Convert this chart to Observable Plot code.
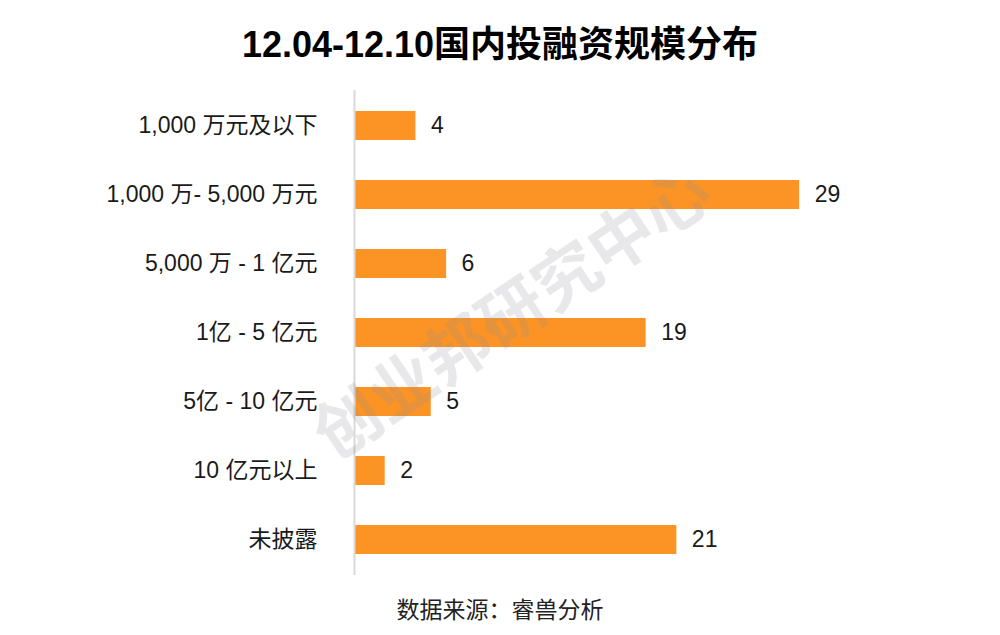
<!DOCTYPE html>
<html>
<head>
<meta charset="utf-8">
<script src="https://cdn.jsdelivr.net/npm/d3@7"></script>
<script src="https://cdn.jsdelivr.net/npm/@observablehq/plot@0.6"></script>
<style>
  html, body { margin: 0; padding: 0; background: #fff; }
  #wrap { width: 1000px; height: 635px; position: relative; overflow: hidden;
          font-family: "Liberation Sans", "Noto Sans CJK SC", sans-serif; }
  #title { height: 80px; line-height: 90px; text-align: center; font-size: 36px; font-weight: bold; color: #000; }
  #caption { height: 45px; line-height: 40px; text-align: center; font-size: 23px; color: #222; }
  svg { display: block; }
</style>
</head>
<body>
<div id="wrap">
  <div id="title">12.04-12.10国内投融资规模分布</div>
  <div id="chart"></div>
  <div id="caption">数据来源：睿兽分析</div>
</div>
<script>
const categories = ["1,000 万元及以下", "1,000 万- 5,000 万元", "5,000 万 - 1 亿元", "1亿 - 5 亿元", "5亿 - 10 亿元", "10 亿元以上", "未披露"];
const values = [4, 29, 6, 19, 5, 2, 21];
const watermark = "创业邦研究中心";

const data = categories.map((c, i) => ({category: c, value: values[i]}));

const chart = Plot.plot({
  width: 1000,
  height: 510,
  marginLeft: 354,
  marginRight: 32,
  marginTop: 10,
  marginBottom: 15,
  style: {fontFamily: "Liberation Sans, Noto Sans CJK SC, sans-serif", color: "#1a1a1a", background: "#fff"},
  x: {domain: [0, 40], axis: null},
  y: {domain: categories, paddingInner: 0.58, paddingOuter: 0.29, label: null},
  marks: [
    Plot.barX(data, {x: "value", y: "category", fill: "#fc9425"}),
    Plot.ruleX([0], {stroke: "#d9d9d9", strokeWidth: 2}),
    Plot.text(data, {x: "value", y: "category", text: d => String(d.value), textAnchor: "start", dx: 15, fontSize: 23, fill: "#1a1a1a"}),
    Plot.axisY({tickSize: 0, tickPadding: 37, fontSize: 23, label: null, fill: "#1a1a1a"}),
    Plot.text([watermark], {frameAnchor: "middle", text: d => d, rotate: -34, dx: -148, dy: -18, fontSize: 66, fontWeight: "bold", fill: "#8a8a9c", fillOpacity: 0.2})
  ]
});
document.getElementById("chart").appendChild(chart);
</script>
</body>
</html>
